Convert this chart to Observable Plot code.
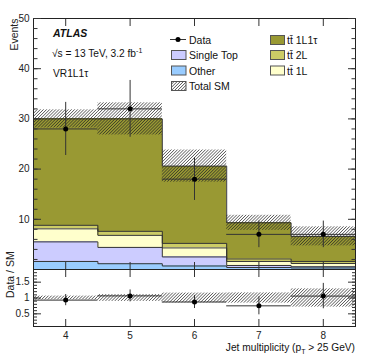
<!DOCTYPE html>
<html><head><meta charset="utf-8">
<script src="https://cdn.jsdelivr.net/npm/d3@7"></script>
<script src="https://cdn.jsdelivr.net/npm/@observablehq/plot@0.6"></script>
<style>
body{margin:0;background:#fff;}
#wrap{position:relative;width:374px;height:359px;overflow:hidden;background:#fff;}
#wrap svg{position:absolute;left:0;}
</style></head><body><div id="wrap"></div>
<script>
// ---- data ----
const bins = [4, 5, 6, 7, 8];
const binEdges = [3.5, 4.5, 5.5, 6.5, 7.5, 8.5];
const seriesNames = ["Other", "Single Top", "tt\u0304 1L", "tt\u0304 2L", "tt\u0304 1L1\u03c4"];
const seriesColors = ["#99ccff", "#ccccff", "#ffffcc", "#cccc66", "#999933"];
const other     = [1.6, 1.15, 0.7, 0.4, 0.3];
const singleTop = [3.9, 3.25, 1.8, 0.4, 0.25];
const tt1L      = [2.6, 2.4, 1.8, 0.8, 0.65];
const tt2L      = [0.7, 0.8, 0.9, 0.5, 0.4];
const tt1L1tau  = [21.2, 22.4, 15.4, 7.2, 5.0];
const smErr     = [1.8, 3.2, 3.2, 1.5, 1.9];
const dataVals  = [28, 32, 18, 7, 7];
const xTicks = [4, 5, 6, 7, 8];
const yTicksMain = [10, 20, 30, 40, 50];
const yTicksRatio = [0.5, 1, 1.5];

// ---- derived tables ----
const seriesValues = [other, singleTop, tt1L, tt2L, tt1L1tau];
const rows = seriesNames.flatMap((s, k) => bins.map((b, i) => ({series: s, x1: binEdges[i], x2: binEdges[i + 1], value: seriesValues[k][i]})));
const cum = [];
seriesValues.forEach((vals, k) => cum.push(vals.map((v, i) => v + (k ? cum[k - 1][i] : 0))));
const stepRows = seriesNames.flatMap((s, k) => binEdges.map((e, i) => ({series: s, x: e, y: cum[k][Math.min(i, bins.length - 1)]})));
const total = cum[cum.length - 1];
const smRows = bins.map((b, i) => ({x1: binEdges[i], x2: binEdges[i + 1], lo: total[i] - smErr[i], hi: total[i] + smErr[i], rlo: 1 - smErr[i] / total[i], rhi: 1 + smErr[i] / total[i]}));
const dataRows = bins.map((b, i) => {
  const e = Math.sqrt(dataVals[i]);
  return {bin: b, x1: binEdges[i], x2: binEdges[i + 1], v: dataVals[i], lo: dataVals[i] - e, hi: dataVals[i] + e,
    r: dataVals[i] / total[i], rlo: (dataVals[i] - e) / total[i], rhi: (dataVals[i] + e) / total[i]};
});

const font = "'Liberation Sans', Arial, Helvetica, sans-serif";
const style = {fontSize: "10px", fontFamily: font, color: "#222", background: "none", overflow: "visible"};
const blank = () => "";
const ink = "#333";

function tickMarks(yMajor, yMinor, majorLen, minorLen) {
  return [
    Plot.axisY(yMajor, {anchor: "left", tickSize: -majorLen, tickFormat: blank, label: null, stroke: ink}),
    Plot.axisY(yMinor, {anchor: "left", tickSize: -minorLen, tickFormat: blank, label: null, stroke: ink}),
    Plot.axisY(yMajor, {anchor: "right", tickSize: -majorLen, tickFormat: blank, label: null, stroke: ink}),
    Plot.axisY(yMinor, {anchor: "right", tickSize: -minorLen, tickFormat: blank, label: null, stroke: ink}),
    Plot.axisX(xTicks, {anchor: "top", tickSize: -7, tickFormat: blank, label: null, stroke: ink}),
    Plot.axisX(xTicks, {anchor: "bottom", tickSize: -7, tickFormat: blank, label: null, stroke: ink})
  ];
}

function addHatch(svg, id) {
  const defs = d3.select(svg).insert("defs", ":first-child");
  const p = defs.append("pattern").attr("id", id).attr("patternUnits", "userSpaceOnUse")
    .attr("width", 2.2).attr("height", 2.2).attr("patternTransform", "rotate(45)");
  p.append("line").attr("x1", 0).attr("y1", 0).attr("x2", 0).attr("y2", 2.2)
    .attr("stroke", "#222").attr("stroke-width", 1.1);
}

const main = Plot.plot({
  width: 374, height: 270, marginLeft: 33, marginRight: 19, marginTop: 18, marginBottom: 1,
  x: {domain: [3.5, 8.5]},
  y: {domain: [0, 50]},
  color: {domain: seriesNames, range: seriesColors},
  style,
  marks: [
    Plot.rectY(rows, {x1: "x1", x2: "x2", y: "value", fill: "series", shapeRendering: "crispEdges"}),
    Plot.line(stepRows, {x: "x", y: "y", z: "series", curve: "step-after", stroke: ink, strokeWidth: 1}),
    Plot.rect(smRows, {x1: "x1", x2: "x2", y1: "lo", y2: "hi", fill: "url(#hatchA)"}),
    Plot.ruleY(dataRows, {x1: "x1", x2: "x2", y: "v", stroke: ink, strokeWidth: 1}),
    Plot.ruleX(dataRows, {x: "bin", y1: "lo", y2: "hi", stroke: ink, strokeWidth: 1}),
    Plot.dot(dataRows, {x: "bin", y: "v", r: 2.5, fill: "#000", stroke: "none"}),
    Plot.frame({stroke: "#222"}),
    Plot.axisY(yTicksMain, {anchor: "left", tickSize: 0, tickPadding: 4, label: null}),
    ...tickMarks(d3.range(0, 51, 10), d3.range(0, 51, 2), 8, 4.5),
    Plot.text(["Events"], {frameAnchor: "top-left", rotate: -90, textAnchor: "end", dx: -23, fontSize: 10.5})
  ]
});
addHatch(main, "hatchA");
main.style.top = "0px";

const ratio = Plot.plot({
  width: 374, height: 90, marginLeft: 33, marginRight: 19, marginTop: 0, marginBottom: 33,
  x: {domain: [3.5, 8.5]},
  y: {domain: [0.1, 1.9]},
  style,
  marks: [
    Plot.rect(smRows, {x1: "x1", x2: "x2", y1: "rlo", y2: "rhi", fill: "url(#hatchB)"}),
    Plot.ruleY(dataRows, {x1: "x1", x2: "x2", y: "r", stroke: ink, strokeWidth: 1}),
    Plot.ruleX(dataRows, {x: "bin", y1: "rlo", y2: "rhi", stroke: ink, strokeWidth: 1}),
    Plot.dot(dataRows, {x: "bin", y: "r", r: 2.5, fill: "#000", stroke: "none"}),
    Plot.frame({stroke: "#222"}),
    Plot.axisY(yTicksRatio, {anchor: "left", tickSize: 0, tickPadding: 4, label: null, tickFormat: d => String(d)}),
    Plot.axisX(xTicks, {anchor: "bottom", tickSize: 0, tickPadding: 5, label: null, tickFormat: d => String(d)}),
    ...tickMarks(yTicksRatio, d3.range(0.2, 1.85, 0.1), 8, 4),
    Plot.text(["Data / SM"], {frameAnchor: "left", rotate: -90, dx: -23, fontSize: 10.5})
  ]
});
addHatch(ratio, "hatchB");
ratio.style.top = "269px";

const wrap = document.getElementById("wrap");
wrap.appendChild(main);
wrap.appendChild(ratio);

// ---- overlay: labels and legend ----
const ov = d3.select(wrap).append("svg").attr("width", 374).attr("height", 359)
  .style("top", "0px").style("pointer-events", "none")
  .attr("font-family", font).attr("fill", "#111");
ov.append("text").attr("x", 53).attr("y", 36.5).attr("font-size", 10.5)
  .attr("font-weight", "bold").attr("font-style", "italic").text("ATLAS");
const s = ov.append("text").attr("x", 52).attr("y", 57).attr("font-size", 10.2);
s.append("tspan").text("\u221as = 13 TeV, 3.2 fb");
s.append("tspan").attr("dy", -4).attr("font-size", 7).text("-1");
ov.append("text").attr("x", 53).attr("y", 76.5).attr("font-size", 10.2).text("VR1L1\u03c4");

// legend
ov.append("line").attr("x1", 170).attr("x2", 186).attr("y1", 39.5).attr("y2", 39.5).attr("stroke", ink);
ov.append("circle").attr("cx", 178).attr("cy", 39.5).attr("r", 2.5).attr("fill", "#000");
ov.append("text").attr("x", 189).attr("y", 43.5).attr("font-size", 10.5).text("Data");
const leftEntries = [
  {name: "Single Top", fill: seriesColors[1], y: 50},
  {name: "Other", fill: seriesColors[0], y: 65.5},
  {name: "Total SM", fill: "url(#hatchA)", y: 81}
];
const rightEntries = [
  {name: seriesNames[4], fill: seriesColors[4], y: 35},
  {name: seriesNames[3], fill: seriesColors[3], y: 50},
  {name: seriesNames[2], fill: seriesColors[2], y: 65.5}
];
for (const e of leftEntries) {
  ov.append("rect").attr("x", 171.5).attr("y", e.y + 0.5).attr("width", 14.5).attr("height", 9)
    .attr("fill", e.fill).attr("stroke", "#555").attr("stroke-width", 1);
  ov.append("text").attr("x", 189).attr("y", e.y + 9).attr("font-size", 10.5).text(e.name);
}
for (const e of rightEntries) {
  ov.append("rect").attr("x", 270.5).attr("y", e.y + 0.5).attr("width", 14).attr("height", 9)
    .attr("fill", e.fill).attr("stroke", "#555").attr("stroke-width", 1);
  ov.append("text").attr("x", 287).attr("y", e.y + 9).attr("font-size", 10.5).text(e.name);
}

// x axis title
const xl = ov.append("text").attr("x", 355).attr("y", 351).attr("font-size", 10.2).attr("text-anchor", "end");
xl.append("tspan").text("Jet multiplicity (p");
xl.append("tspan").attr("dy", 2.5).attr("font-size", 7).text("T");
xl.append("tspan").attr("dy", -2.5).text(" > 25 GeV)");
</script></body></html>
